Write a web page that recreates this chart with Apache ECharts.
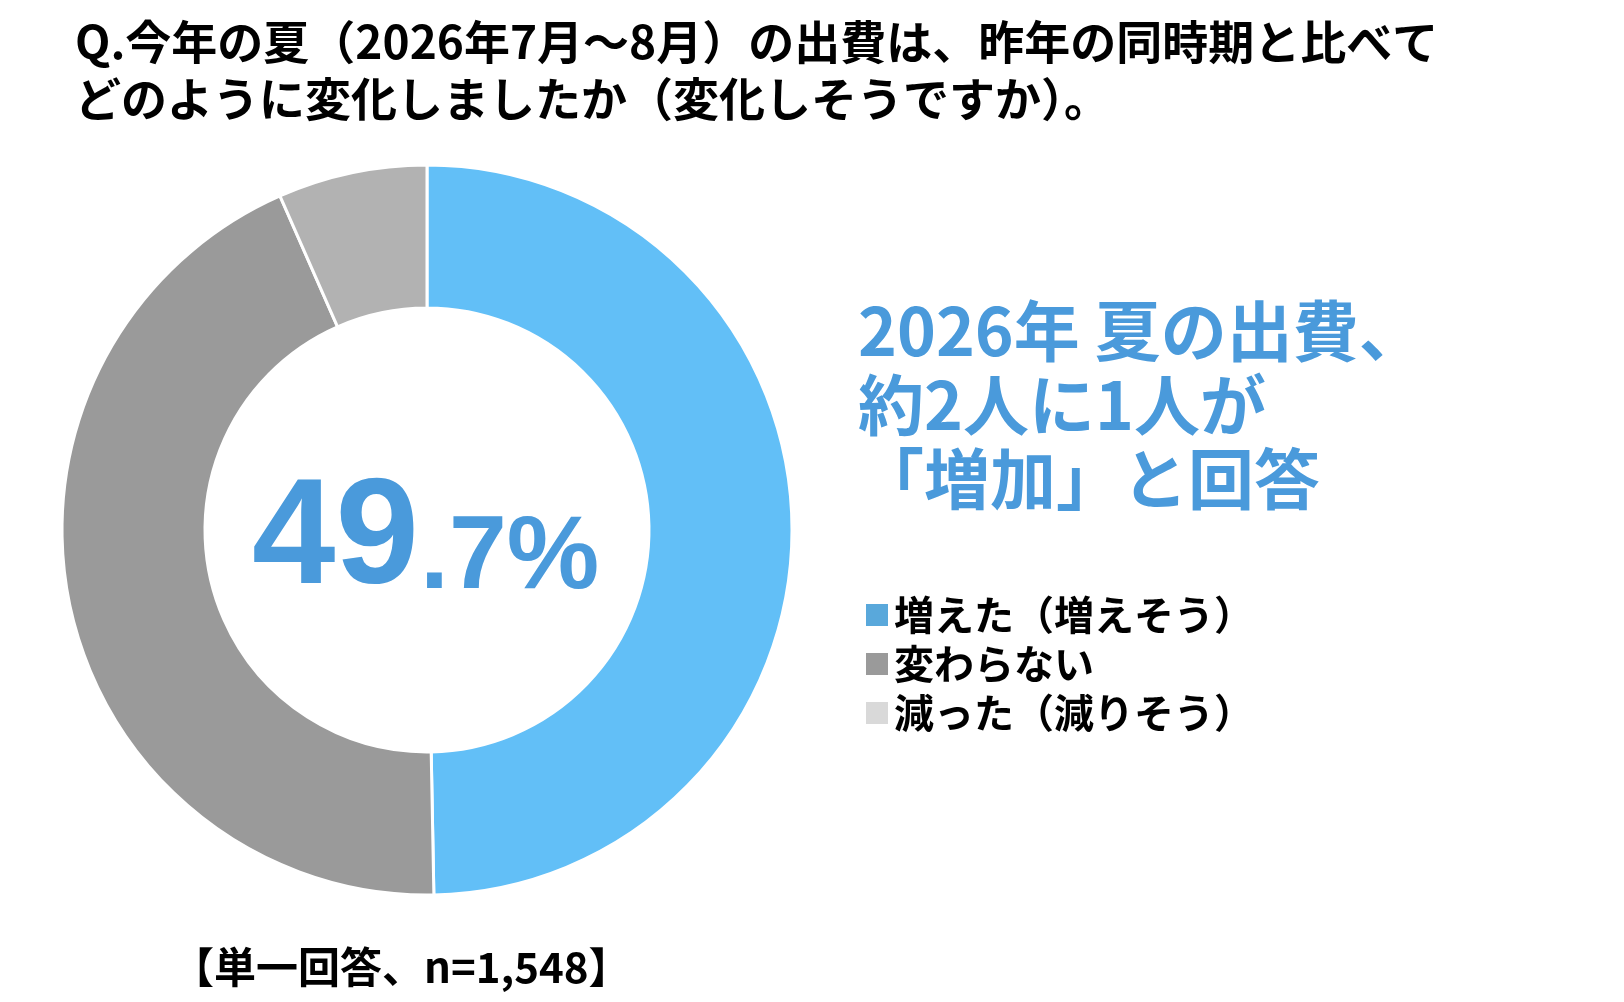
<!DOCTYPE html>
<html>
<head>
<meta charset="utf-8">
<script src="https://cdn.jsdelivr.net/npm/echarts@6/dist/echarts.min.js"></script>
<style>
html,body{margin:0;padding:0;background:#fff;}
#chart{width:1624px;height:1002px;}
</style>
</head>
<body>
<div id="chart"></div>
<script>
const categories = ['増えた（増えそう）', '変わらない', '減った（減りそう）'];
const values = [49.7, 43.7, 6.6];
const sliceColors = ['#62BFF7', '#9A9A9A', '#B2B2B2'];
const legendColors = ['#59A8DB', '#9A9A9A', '#D9D9D9'];
const titleText = 'Q.今年の夏（2026年7月～8月）の出費は、昨年の同時期と比べて\nどのように変化しましたか（変化しそうですか）。';
const headline = '2026年 夏の出費、\n約2人に1人が\n「増加」と回答';
const bigNumber = '49';
const smallNumber = '.7%';
const note = '【単一回答、n=1,548】';

const JP = '"Noto Sans CJK JP", "Noto Sans", sans-serif';
const chart = echarts.init(document.getElementById('chart'));
chart.setOption({
  backgroundColor: '#ffffff',
  animation: false,
  title: {
    text: titleText,
    left: 70,
    top: 8,
    textStyle: { fontFamily: JP, fontSize: 46, fontWeight: 'bold', color: '#000', lineHeight: 57 }
  },
  legend: {
    orient: 'vertical',
    left: 859,
    top: 590,
    itemWidth: 24,
    itemHeight: 24,
    itemGap: 9,
    icon: 'rect',
    selectedMode: false,
    textStyle: { fontFamily: JP, fontSize: 40, fontWeight: 'bold', color: '#000', lineHeight: 40 },
    data: categories.map((c, i) => ({ name: c, itemStyle: { color: legendColors[i] } }))
  },
  graphic: [
    { type: 'text', left: 858, top: 294,
      style: { text: headline, fontFamily: JP, fontSize: 66, fontWeight: 'bold', fill: '#4A9ADB', lineHeight: 74 } },
    { type: 'text', x: 252, y: 542,
      style: { text: bigNumber, fontFamily: '"Liberation Sans", Arial, sans-serif', fontSize: 150, fontWeight: 'bold', fill: '#4A9ADB', align: 'left', verticalAlign: 'middle' } },
    { type: 'text', x: 420, y: 559,
      style: { text: smallNumber, fontFamily: '"Liberation Sans", Arial, sans-serif', fontSize: 104, fontWeight: 'bold', fill: '#4A9ADB', align: 'left', verticalAlign: 'middle' } },
    { type: 'text', x: 172, y: 967,
      style: { text: note, fontFamily: JP, fontSize: 42, fontWeight: 'bold', fill: '#000', align: 'left', verticalAlign: 'middle' } }
  ],
  series: [{
    type: 'pie',
    center: [427, 530],
    radius: [222, 365],
    startAngle: 90,
    clockwise: true,
    silent: true,
    label: { show: false },
    labelLine: { show: false },
    itemStyle: { borderColor: '#fff', borderWidth: 3 },
    data: categories.map((c, i) => ({ name: c, value: values[i], itemStyle: { color: sliceColors[i] } }))
  }]
});
</script>
</body>
</html>
